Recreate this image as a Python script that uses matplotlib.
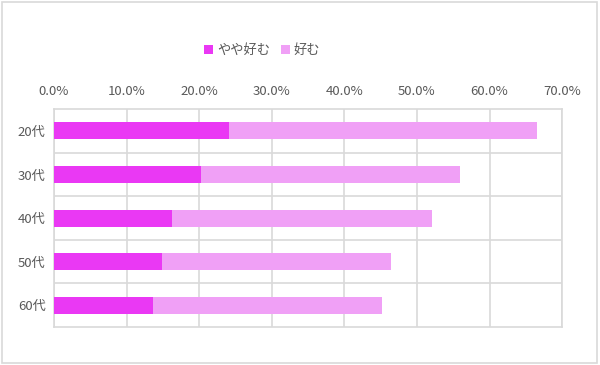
import numpy as np
import matplotlib
matplotlib.use('Agg')
import matplotlib.pyplot as plt
from matplotlib.patches import Rectangle
from matplotlib.ticker import FuncFormatter, MultipleLocator, FixedLocator

plt.rcParams['font.family'] = ['Noto Sans CJK JP', 'DejaVu Sans']

# Data (percent)
categories = ['20代', '30代', '40代', '50代', '60代']
series_names = ['やや好む', '好む']
yaya_konomu = [24.1, 20.3, 16.2, 14.9, 13.6]
konomu = [42.4, 35.6, 35.8, 31.5, 31.6]

colors = ['#EA38F4', '#F0A0F6']
gridColor = '#D9D9D9'
textColor = '#595959'


def main():
    fig = plt.figure(figsize=(6.0, 3.65), dpi=100)
    ax = fig.add_axes([0.09, 0.104, 0.847, 0.597])

    y = np.arange(len(categories))
    ax.barh(y, yaya_konomu, height=0.39, color=colors[0], label=series_names[0], zorder=3)
    ax.barh(y, konomu, left=yaya_konomu, height=0.39, color=colors[1],
            label=series_names[1], zorder=3)

    # Axis on top, categories top to bottom
    ax.set_xlim(0, 70)
    ax.set_ylim(len(categories) - 0.5, -0.5)
    ax.xaxis.tick_top()
    ax.xaxis.set_major_locator(MultipleLocator(10))
    ax.xaxis.set_major_formatter(FuncFormatter(lambda v, p: f'{v:.1f}%'))
    ax.set_yticks(y)
    ax.set_yticklabels(categories)
    ax.yaxis.set_minor_locator(FixedLocator(np.arange(0.5, len(categories) - 0.5, 1)))
    ax.tick_params(axis='both', which='both', length=0, colors=textColor, labelsize=9.5)
    ax.tick_params(axis='x', pad=8)
    ax.tick_params(axis='y', pad=6)

    # Cell grid
    ax.grid(axis='x', which='major', color=gridColor, linewidth=1.2, zorder=0)
    ax.grid(axis='y', which='minor', color=gridColor, linewidth=1.2, zorder=0)
    for spine in ax.spines.values():
        spine.set_color(gridColor)
        spine.set_linewidth(1.2)

    # Legend
    fig.legend(loc='center', bbox_to_anchor=(0.437, 0.862), ncol=2, frameon=False,
               fontsize=9.5, labelcolor=textColor, handlelength=0.7, handleheight=0.7,
               handletextpad=0.3, columnspacing=0.8)

    # Chart border
    fig.patches.append(Rectangle((0.004, 0.006), 0.991, 0.988, transform=fig.transFigure,
                                 fill=False, edgecolor=gridColor, linewidth=1.2))

    fig.savefig('out.png', dpi=100)


if __name__ == "__main__":
    main()
